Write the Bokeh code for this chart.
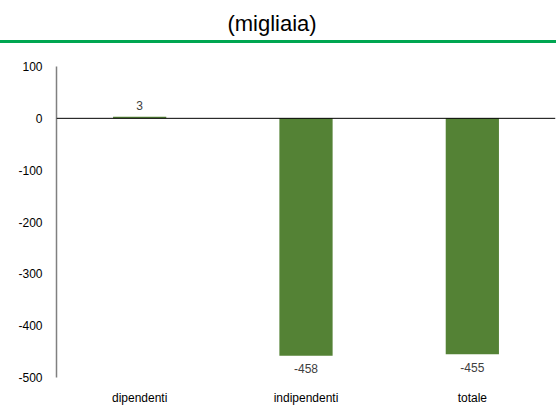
from bokeh.plotting import figure
from bokeh.models import ColumnDataSource, LabelSet, Span, FixedTicker, Range1d, Div
from bokeh.layouts import column
from bokeh.core.properties import value
from bokeh.embed import file_html
from bokeh.resources import INLINE

# Data
categories = ["dipendenti", "indipendenti", "totale"]
values = [3, -458, -455]
y_ticks = [-500, -400, -300, -200, -100, 0, 100]
y_tick_labels = ["-500", "-400", "-300", "-200", "-100", "0", "100"]
title_text = "(migliaia)"

FONT = "Liberation Sans"
BAR_COLOR = "#548235"
RULE_COLOR = "#00A651"

# Header strip: title and full-width green rule
header_html = (
    '<div style="position:relative;width:556px;height:50px;margin:0;padding:0;">'
    '<div style="position:absolute;left:0;top:8px;width:544px;height:32px;'
    "line-height:32px;text-align:center;font-family:'Liberation Sans';"
    f'font-size:22px;color:#000;">{title_text}</div>'
    '<div style="position:absolute;left:0;top:40px;width:556px;height:3px;'
    f'background:{RULE_COLOR};"></div>'
    '</div>'
)
head = Div(text=header_html, width=556, height=50, margin=0)

# Main bar chart
src = ColumnDataSource(dict(
    cat=categories,
    val=values,
    lbl=[str(v) for v in values],
    off=[11 if v >= 0 else -13 for v in values],
))

p = figure(width=556, height=358, x_range=categories, y_range=Range1d(-500, 100),
           output_backend="svg", toolbar_location=None,
           min_border_left=56, min_border_right=1, min_border_top=16, min_border_bottom=31)
p.outline_line_color = None
p.grid.visible = False

p.vbar(x="cat", top="val", bottom=0, width=0.32, source=src,
       fill_color=BAR_COLOR, line_color=None)

p.add_layout(Span(location=0, dimension="width", line_color="#000000", line_width=1))

labels = LabelSet(x="cat", y="val", text="lbl", y_offset="off", source=src,
                  text_align="center", text_baseline="middle",
                  text_font=value(FONT), text_font_size="12px", text_color="#404040")
p.add_layout(labels)

p.yaxis.ticker = FixedTicker(ticks=y_ticks)
p.yaxis.major_label_overrides = dict(zip(y_ticks, y_tick_labels))
p.yaxis.axis_line_color = "#808080"
p.yaxis.axis_line_width = 1.5
p.yaxis.major_tick_line_color = None
p.yaxis.minor_tick_line_color = None
p.yaxis.major_tick_out = 0
p.yaxis.major_tick_in = 0
p.yaxis.major_label_standoff = 14
p.yaxis.major_label_text_font = FONT
p.yaxis.major_label_text_font_size = "12px"
p.yaxis.major_label_text_color = "#000000"

p.xaxis.axis_line_color = None
p.xaxis.major_tick_line_color = None
p.xaxis.minor_tick_line_color = None
p.xaxis.major_tick_out = 0
p.xaxis.major_tick_in = 0
p.xaxis.major_label_standoff = 13
p.xaxis.major_label_text_font = FONT
p.xaxis.major_label_text_font_size = "12px"
p.xaxis.major_label_text_color = "#000000"

layout = column(head, p, spacing=0)

open("out.html", "w").write(file_html(layout, INLINE))
